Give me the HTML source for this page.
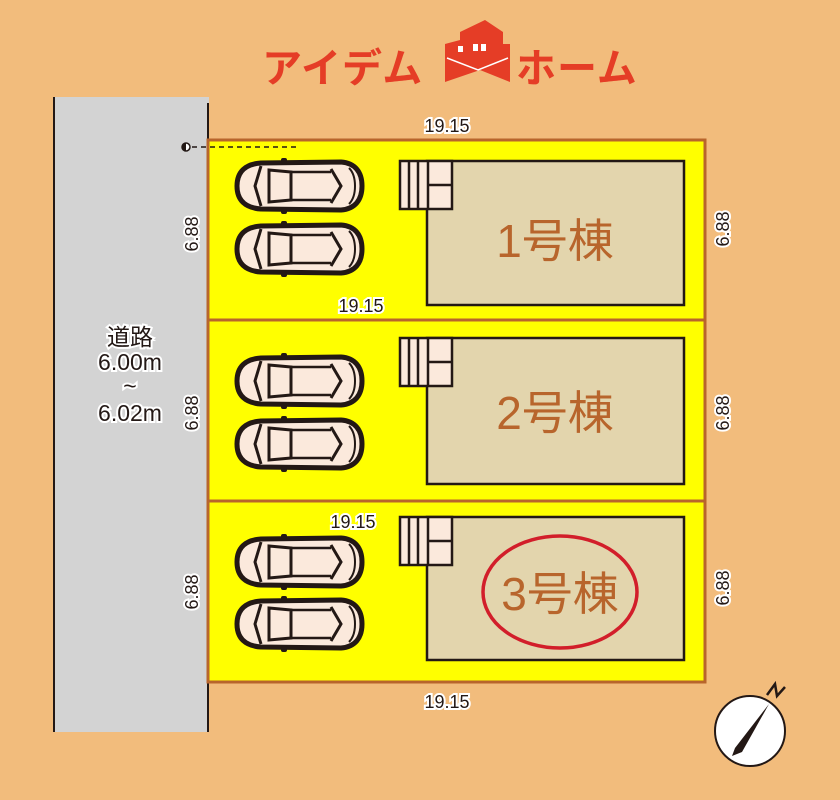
<!DOCTYPE html>
<html><head><meta charset="utf-8"><style>
html,body{margin:0;padding:0;background:#f2bc7c;}
svg{display:block}
text{font-family:"Liberation Sans","Noto Sans CJK JP",sans-serif;}
</style></head><body>
<svg width="840" height="800" viewBox="0 0 840 800" xmlns="http://www.w3.org/2000/svg">
<defs>
<g id="car">
<path d="M6,26 C6,12 14,4 30,3 L110,2 C124,3 131,12 131,26 C131,40 124,49 110,50 L30,49 C14,48 6,40 6,26 Z" fill="#fbe9dc" stroke="#231815" stroke-width="5"/>
<path d="M30,6 L24,26 L30,46" fill="none" stroke="#231815" stroke-width="3"/>
<path d="M38,10 L60,12 L60,40 L38,42 Z" fill="none" stroke="#231815" stroke-width="3"/>
<path d="M100,9 L110,26 L100,43" fill="none" stroke="#231815" stroke-width="3"/>
<path d="M60,12 L100,12 M60,40 L100,40" stroke="#231815" stroke-width="2.5"/>
<path d="M118,8 C126,16 126,36 118,44" fill="none" stroke="#231815" stroke-width="2"/>
<rect x="50" y="-2" width="6" height="6" rx="2" fill="#231815"/>
<rect x="50" y="48" width="6" height="6" rx="2" fill="#231815"/>
</g>
<g id="stair">
<rect x="0" y="0" width="52" height="48" fill="#fbe9dc" stroke="#231815" stroke-width="2.5"/>
<path d="M9,0 V48 M18,0 V48 M28,0 V48 M28,24 H52" stroke="#231815" stroke-width="2.5"/>
</g>
</defs>
<rect width="840" height="800" fill="#f2bc7c"/>
<!-- logo -->
<g fill="#e53d26">
<text x="262" y="82" font-size="40" font-weight="bold" fill="#e53d26" letter-spacing="1">アイデム</text>
<polygon points="445,44 460,40 460,32 485,20 503,32 503,44 510,44 510,82 480,70 445,82"/>
<rect x="458" y="46" width="5" height="6" fill="#fff"/><rect x="473" y="44" width="5" height="7" fill="#fff"/><rect x="481" y="44" width="5" height="7" fill="#fff"/>
<path d="M447,58 L478,70 L508,58" stroke="#fff" stroke-width="1.5" fill="none"/>
<text x="516" y="82" font-size="40" font-weight="bold" fill="#e53d26" letter-spacing="1">ホーム</text>
</g>
<!-- road -->
<rect x="53" y="97" width="156" height="635" fill="#d3d3d3"/>
<line x1="54" y1="97" x2="54" y2="732" stroke="#231815" stroke-width="2"/>
<line x1="208" y1="103" x2="208" y2="732" stroke="#231815" stroke-width="2"/>
<g font-size="23" text-anchor="middle" fill="#231815" stroke="#fff" stroke-width="4" paint-order="stroke">
<text x="130" y="345">道路</text>
<text x="130" y="370">6.00m</text>
<text x="130" y="394">~</text>
<text x="130" y="421">6.02m</text>
</g>
<!-- lots -->
<rect x="208" y="140" width="497" height="542" fill="#ffff00" stroke="#b8652c" stroke-width="3"/>
<line x1="208" y1="320" x2="705" y2="320" stroke="#b8652c" stroke-width="3"/>
<line x1="208" y1="501" x2="705" y2="501" stroke="#b8652c" stroke-width="3"/>
<circle cx="186" cy="147" r="4" fill="#fff" stroke="#231815" stroke-width="1.5"/>
<path d="M186,143 A4,4 0 0,0 186,151 Z" fill="#231815"/>
<line x1="192" y1="147" x2="296" y2="147" stroke="#231815" stroke-width="1.5" stroke-dasharray="5,4"/>
<!-- buildings -->
<g fill="#e3d5ad" stroke="#231815" stroke-width="2.5">
<rect x="427" y="161" width="257" height="144"/>
<rect x="427" y="338" width="257" height="146"/>
<rect x="427" y="517" width="257" height="143"/>
</g>
<use href="#stair" x="400" y="161"/>
<use href="#stair" x="400" y="338"/>
<use href="#stair" x="400" y="517"/>
<g font-size="46" fill="#b8652c" text-anchor="middle">
<text x="555" y="257">1号棟</text>
<text x="555" y="429">2号棟</text>
<text x="560" y="610">3号棟</text>
</g>
<ellipse cx="560" cy="592" rx="77" ry="56" fill="none" stroke="#d21e2a" stroke-width="3.5"/>
<!-- cars -->
<use href="#car" x="231" y="160"/>
<use href="#car" x="231" y="223"/>
<use href="#car" x="231" y="355"/>
<use href="#car" x="231" y="418"/>
<use href="#car" x="231" y="536"/>
<use href="#car" x="231" y="598"/>
<!-- dims -->
<g font-size="18" fill="#231815" stroke="#fff" stroke-width="4" paint-order="stroke" text-anchor="middle">
<text x="447" y="132">19.15</text>
<text x="361" y="312">19.15</text>
<text x="353" y="528">19.15</text>
<text x="447" y="708">19.15</text>
<text transform="translate(198,234) rotate(-90)">6.88</text>
<text transform="translate(198,413) rotate(-90)">6.88</text>
<text transform="translate(198,592) rotate(-90)">6.88</text>
<text transform="translate(729,229) rotate(-90)">6.88</text>
<text transform="translate(729,413) rotate(-90)">6.88</text>
<text transform="translate(729,588) rotate(-90)">6.88</text>
</g>
<!-- compass -->
<circle cx="750" cy="731" r="35" fill="#fff" stroke="#231815" stroke-width="2"/>
<polygon points="769,704 742,752 732,756 735,748" fill="#231815"/>
<path d="M767,695 L775,684 L777,696 L785,687" fill="none" stroke="#231815" stroke-width="2.5"/>
</svg>
</body></html>
